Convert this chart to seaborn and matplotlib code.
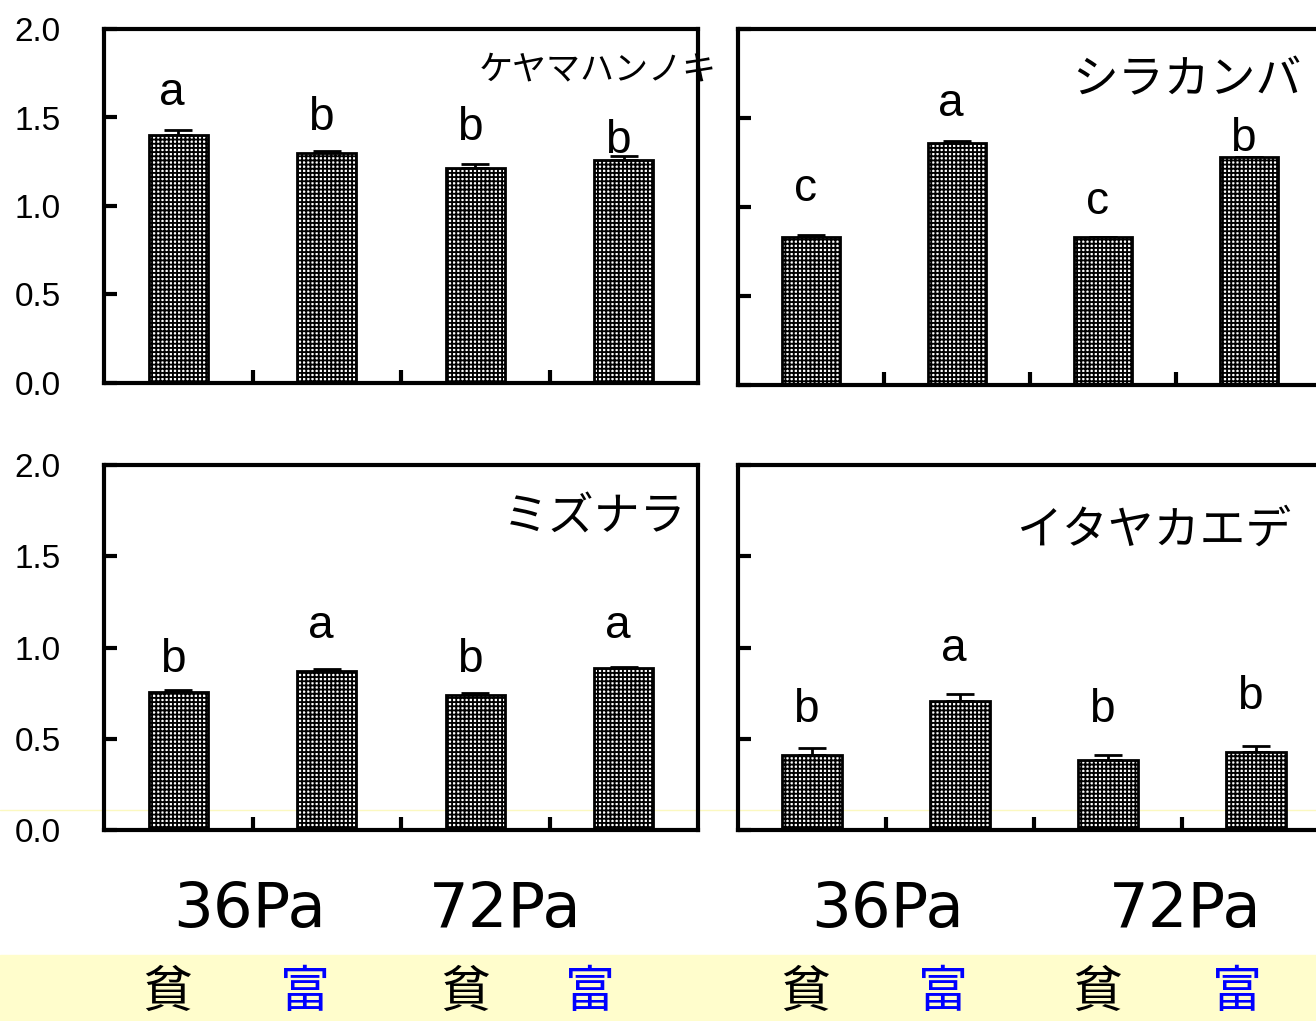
import numpy as np
import pandas as pd
import matplotlib
matplotlib.use("Agg")
import matplotlib.pyplot as plt
import seaborn as sns

sns.set_style("white")
plt.rcParams['font.family'] = ['Liberation Sans', 'Noto Sans CJK JP', 'DejaVu Sans']
plt.rcParams['hatch.color'] = 'black'
plt.rcParams['hatch.linewidth'] = 1.35
plt.rcParams['text.color'] = 'black'
plt.rcParams['xtick.color'] = 'black'
plt.rcParams['ytick.color'] = 'black'

# ---------------- data ----------------
conditions = ["36Pa貧", "36Pa富", "72Pa貧", "72Pa富"]
species = ["ケヤマハンノキ", "シラカンバ", "ミズナラ", "イタヤカエデ"]

keyama_vals = [1.40, 1.30, 1.215, 1.26]
keyama_err = [0.03, 0.01, 0.025, 0.025]
keyama_letters = ["a", "b", "b", "b"]
keyama_letter_y = [1.64, 1.50, 1.44, 1.37]

shirakanba_vals = [0.83, 1.36, 0.83, 1.28]
shirakanba_err = [0.01, 0.01, 0.0, 0.0]
shirakanba_letters = ["c", "a", "c", "b"]
shirakanba_letter_y = [1.10, 1.58, 1.03, 1.38]

mizunara_vals = [0.755, 0.87, 0.74, 0.885]
mizunara_err = [0.01, 0.01, 0.01, 0.01]
mizunara_letters = ["b", "a", "b", "a"]
mizunara_letter_y = [0.93, 1.12, 0.93, 1.12]

itaya_vals = [0.41, 0.705, 0.385, 0.43]
itaya_err = [0.04, 0.04, 0.025, 0.03]
itaya_letters = ["b", "a", "b", "b"]
itaya_letter_y = [0.66, 0.99, 0.66, 0.73]

y_ticks = [0.0, 0.5, 1.0, 1.5, 2.0]
y_ticklabels = ["0.0", "0.5", "1.0", "1.5", "2.0"]
co2_labels = ["36Pa", "72Pa"]
soil_labels = ["貧", "富"]
soil_colors = ["black", "#0000FF"]

W, H = 1316, 1021
fig = plt.figure(figsize=(W / 100, H / 100), dpi=100)

def fx(px):
    return px / W

def fy(py):
    return 1 - py / H

# bottom yellow band + faint line
fig.patches.append(plt.Rectangle((0, 0), 1, fy(955), transform=fig.transFigure,
                                 color="#FFFDCC", zorder=0))
fig.add_artist(plt.Line2D([0, 1], [fy(810), fy(810)], transform=fig.transFigure,
                          color="#FBF8C0", lw=1, zorder=0))

panels = [
    dict(name=species[0], vals=keyama_vals, err=keyama_err, letters=keyama_letters,
         ly=keyama_letter_y, rect=(104, 29, 698, 383), labels=True,
         title_xy=(0.630, 0.885), fs=24.5),
    dict(name=species[1], vals=shirakanba_vals, err=shirakanba_err, letters=shirakanba_letters,
         ly=shirakanba_letter_y, rect=(738, 29, 1322, 385), labels=False,
         title_xy=(0.572, 0.857), fs=33),
    dict(name=species[2], vals=mizunara_vals, err=mizunara_err, letters=mizunara_letters,
         ly=mizunara_letter_y, rect=(104, 465, 698, 830), labels=True,
         title_xy=(0.672, 0.858), fs=33),
    dict(name=species[3], vals=itaya_vals, err=itaya_err, letters=itaya_letters,
         ly=itaya_letter_y, rect=(738, 465, 1330, 830), labels=False,
         title_xy=(0.470, 0.822), fs=33),
]

for p in panels:
    l, t, r, b = p["rect"]
    ax = fig.add_axes([fx(l), fy(b), fx(r - l), (b - t) / H])
    ax.set_facecolor("none")
    df = pd.DataFrame({"cond": conditions, "val": p["vals"]})
    sns.barplot(data=df, x="cond", y="val", ax=ax, color="white", saturation=1,
                width=0.4, edgecolor="black", linewidth=2, errorbar=None, zorder=2)
    for patch in ax.patches:
        patch.set_hatch("++++")
    xs = np.arange(len(conditions))
    ax.errorbar(xs, p["vals"], yerr=[np.zeros(len(xs)), p["err"]], fmt="none",
                ecolor="black", elinewidth=2, capsize=10, capthick=2, zorder=1)
    for x, lab, y in zip(xs, p["letters"], p["ly"]):
        ax.text(x - 0.04, y, lab, ha="center", va="center", fontsize=33,
                color="black", family=["Liberation Sans"])
    ax.text(p["title_xy"][0], p["title_xy"][1], p["name"], transform=ax.transAxes,
            ha="left", va="center", fontsize=p["fs"], family=["Noto Sans CJK JP"],
            color="black", clip_on=False)
    ax.set_xlim(-0.5, 3.5)
    ax.set_ylim(0, 2.0)
    ax.set_xlabel("")
    ax.set_ylabel("")
    ax.set_xticks([0.5, 1.5, 2.5])
    ax.set_xticklabels([])
    ax.set_yticks(y_ticks)
    if p["labels"]:
        ax.set_yticklabels(y_ticklabels, fontsize=24, color="black")
    else:
        ax.set_yticklabels([])
    ax.tick_params(axis="both", direction="in", length=9.5, width=3, color="black",
                   bottom=True, left=True, top=False, right=False)
    ax.tick_params(axis="y", pad=31)
    for s in ax.spines.values():
        s.set_linewidth(3)
        s.set_color("black")
        s.set_visible(True)
    ax.grid(False)

# CO2 labels
for x, lab in zip([250, 505, 888, 1185], co2_labels * 2):
    fig.text(fx(x), fy(910), lab, ha="center", va="center", fontsize=45,
             color="black", family=["DejaVu Sans"])

# soil fertility labels
for x, i in zip([167, 305, 465, 590, 805, 943, 1097, 1237], [0, 1] * 4):
    fig.text(fx(x), fy(993), soil_labels[i], ha="center", va="center", fontsize=36,
             color=soil_colors[i], family=["Noto Sans CJK JP"])

fig.savefig("out.png", dpi=100)
